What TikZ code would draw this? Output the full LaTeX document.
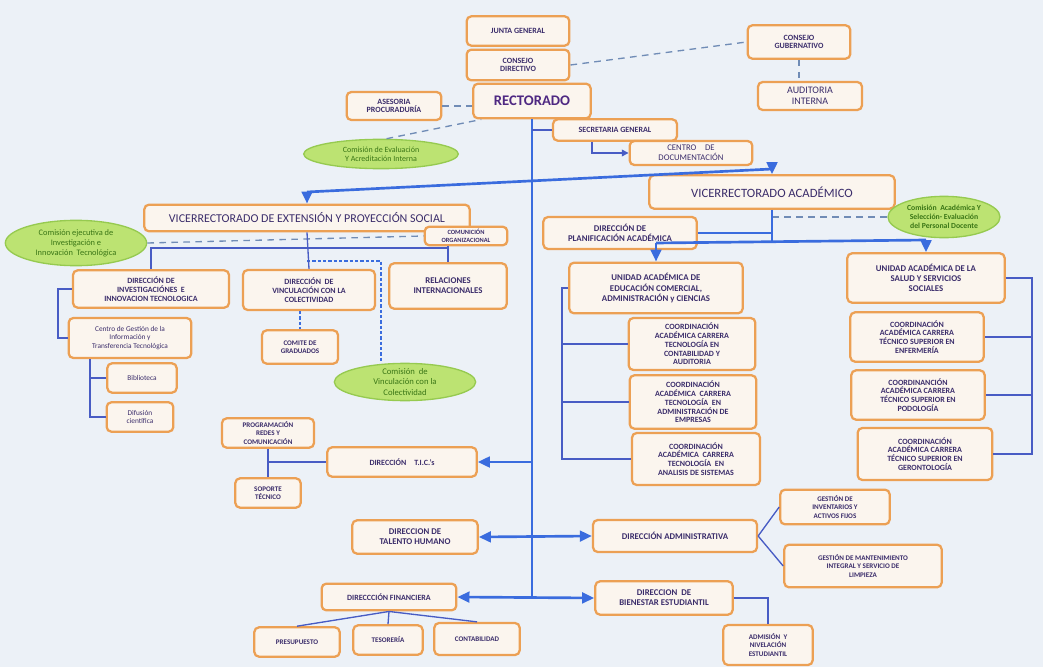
\documentclass[tikz,border=0pt]{standalone}
\usepackage{fontspec}
\setmainfont{Carlito}
\usetikzlibrary{arrows.meta,shapes.geometric}

\definecolor{unitorange}{RGB}{236,160,84}
\definecolor{unitfill}{RGB}{251,245,238}
\definecolor{unittext}{RGB}{59,45,107}
\definecolor{rectorpurple}{RGB}{78,40,130}
\definecolor{linkblue}{RGB}{58,108,222}
\definecolor{sublinkblue}{RGB}{72,92,196}
\definecolor{dashgray}{RGB}{112,140,182}
\definecolor{comfill}{RGB}{188,227,114}
\definecolor{comdraw}{RGB}{150,202,80}
\definecolor{comtext}{RGB}{58,118,22}
\definecolor{paper}{RGB}{236,241,247}

\tikzset{every picture/.style={line width=0.75pt},
  unitbox/.style={draw=unitorange, line width=1.7pt, rounded corners=3.5pt, fill=unitfill,
    text=unittext, align=center, inner sep=1pt, font=\fontsize{6}{6.6}\selectfont\bfseries},
  tinytext/.style={font=\fontsize{5.3}{6.2}\selectfont\bfseries},
  plaintext/.style={font=\fontsize{5.5}{6.4}\selectfont},
  midtext/.style={font=\fontsize{6.6}{7.6}\selectfont\bfseries},
  vicetext/.style={font=\fontsize{9}{10}\selectfont},
  comision/.style={ellipse, draw=comdraw, line width=1pt, fill=comfill, text=comtext,
    align=center, inner sep=0pt, font=\fontsize{6}{7}\selectfont},
  mainlink/.style={draw=linkblue, fill=linkblue, line width=2pt},
  sublink/.style={draw=sublinkblue, line width=1pt},
  dashlink/.style={draw=dashgray, line width=1pt, dash pattern=on 5pt off 4pt},
  vinclink/.style={draw=linkblue, line width=1pt, dash pattern=on 2.5pt off 1.5pt},
  tipblue/.style={-{Triangle[length=9pt,width=8pt]}},
  tipboth/.style={{Triangle[length=9pt,width=8pt]}-{Triangle[length=9pt,width=8pt]}}
}

\begin{document}
\begin{tikzpicture}[x=0.75pt,y=0.75pt,yscale=-1]
\useasboundingbox (0,0) rectangle (1043,667);
\fill[paper] (0,0) rectangle (1043,667);

% Text Node
\draw (518,31) node [unitbox, minimum width=77pt, minimum height=22pt] (junta) {JUNTA GENERAL};
% Text Node
\draw (518,65) node [unitbox, minimum width=77pt, minimum height=23pt] (directivo) {CONSEJO\\DIRECTIVO};
% Text Node
\draw (799,42) node [unitbox, minimum width=77pt, minimum height=25pt] (gubernativo) {CONSEJO\\GUBERNATIVO};
% Text Node
\draw (810,96) node [unitbox, minimum width=78pt, minimum height=21pt, font=\fontsize{7.5}{8.5}\selectfont] (auditoria) {AUDITORIA\\INTERNA};
% Text Node
\draw (532,101) node [unitbox, minimum width=88pt, minimum height=26pt, text=rectorpurple, font=\fontsize{11}{12}\selectfont\bfseries] (rectorado) {RECTORADO};
% Text Node
\draw (394,106) node [unitbox, minimum width=71pt, minimum height=21pt] (asesoria) {ASESORIA\\PROCURADURÍA};
% Text Node
\draw (381,154) node [comision, minimum width=116pt, minimum height=22pt] (evaluacion) {Comisión de Evaluación\\Y Acreditación Interna};
% Text Node
\draw (615,130) node [unitbox, minimum width=93pt, minimum height=16pt] (secretaria) {SECRETARIA GENERAL};
% Text Node
\draw (691,153) node [unitbox, minimum width=92pt, minimum height=18pt, font=\fontsize{6.5}{7.3}\selectfont] (documentacion) {CENTRO\quad DE\\DOCUMENTACIÓN};

% Text Node
\draw (307,218) node [unitbox, minimum width=244pt, minimum height=20pt, vicetext] (viceext) {VICERRECTORADO DE EXTENSIÓN Y PROYECCIÓN SOCIAL};
% Text Node
\draw (466,236) node [unitbox, minimum width=62pt, minimum height=14pt, font=\fontsize{4.8}{5.6}\selectfont\bfseries] (comunic) {COMUNICIÓN\\ORGANIZACIONAL};
% Text Node
\draw (76,243) node [comision, minimum width=106pt, minimum height=34pt, font=\fontsize{6.3}{7.4}\selectfont] (ejecutiva) {Comisión ejecutiva de\\Investigación e\\Innovación\ \ Tecnológica};
% Text Node
\draw (151,289) node [unitbox, minimum width=117pt, minimum height=28pt] (dirinv) {DIRECCIÓN DE\\INVESTIGACIÓNES\ \ E\\INNOVACION TECNOLOGICA};
% Text Node
\draw (309,290) node [unitbox, minimum width=99pt, minimum height=30pt] (dirvinc) {DIRECCIÓN\ \ DE\\VINCULACIÓN CON LA\\COLECTIVIDAD};
% Text Node
\draw (448,286) node [unitbox, minimum width=88pt, minimum height=34pt, midtext] (relint) {RELACIONES\\INTERNACIONALES};
% Text Node
\draw (130,338) node [unitbox, minimum width=92pt, minimum height=30pt, plaintext] (centrogest) {Centro de Gestión de la\\Información y\\Transferencia Tecnológica};
% Text Node
\draw (142,378) node [unitbox, minimum width=52pt, minimum height=22pt, plaintext] (biblio) {Biblioteca};
% Text Node
\draw (140,417) node [unitbox, minimum width=50pt, minimum height=22pt, plaintext] (difusion) {Difusión\\científica};
% Text Node
\draw (300,347) node [unitbox, minimum width=57pt, minimum height=25pt, tinytext] (comite) {COMITE DE\\GRADUADOS};
% Text Node
\draw (405,382) node [comision, minimum width=106pt, minimum height=27pt, font=\fontsize{6.5}{7.6}\selectfont] (vinccom) {Comisión\ \ de\\Vinculación con la\\Colectividad};

% Text Node
\draw (772,192) node [unitbox, minimum width=184pt, minimum height=25pt, font=\fontsize{9.5}{10.5}\selectfont] (viceacad) {VICERRECTORADO ACADÉMICO};
% Text Node
\draw (620,233) node [unitbox, minimum width=115pt, minimum height=24pt, midtext] (planif) {DIRECCIÓN DE\\PLANIFICACIÓN ACADÉMICA};
% Text Node
\draw (944,217) node [comision, minimum width=84pt, minimum height=31pt, font=\fontsize{5.8}{6.8}\selectfont\bfseries] (acadcom) {Comisión\ \ Académica Y\\Selección- Evaluación\\del Personal Docente};
% Text Node
\draw (656,288) node [unitbox, minimum width=130pt, minimum height=38pt, midtext] (unidadcom) {UNIDAD ACADÉMICA DE\\EDUCACIÓN COMERCIAL,\\ADMINISTRACIÓN y CIENCIAS};
% Text Node
\draw (926,278) node [unitbox, minimum width=118pt, minimum height=37pt, midtext] (unidadsalud) {UNIDAD ACADÉMICA DE LA\\SALUD Y SERVICIOS\\SOCIALES};
% Text Node
\draw (692,344) node [unitbox, minimum width=95pt, minimum height=39pt] (coordcont) {COORDINACIÓN\\ACADÉMICA CARRERA\\TECNOLOGÍA EN\\CONTABILIDAD Y\\AUDITORIA};
% Text Node
\draw (693,402) node [unitbox, minimum width=95pt, minimum height=40pt] (coordadm) {COORDINACIÓN\\ACADÉMICA\ \ CARRERA\\TECNOLOGÍA\ \ EN\\ADMINISTRACIÓN DE\\EMPRESAS};
% Text Node
\draw (696,459) node [unitbox, minimum width=96pt, minimum height=39pt] (coordsis) {COORDINACIÓN\\ACADÉMICA\ \ CARRERA\\TECNOLOGÍA\ \ EN\\ANALISIS DE SISTEMAS};
% Text Node
\draw (917,337) node [unitbox, minimum width=100pt, minimum height=37pt] (coordenf) {COORDINACIÓN\\ACADÉMICA CARRERA\\TÉCNICO SUPERIOR EN\\ENFERMERÍA};
% Text Node
\draw (918,395) node [unitbox, minimum width=100pt, minimum height=37pt] (coordpod) {COORDINANCIÓN\\ACADÉMICA CARRERA\\TÉCNICO SUPERIOR EN\\PODOLOGÍA};
% Text Node
\draw (925,454) node [unitbox, minimum width=101pt, minimum height=39pt] (coordger) {COORDINACIÓN\\ACADÉMICA CARRERA\\TÉCNICO SUPERIOR EN\\GERONTOLOGÍA};

% Text Node
\draw (268,433) node [unitbox, minimum width=69pt, minimum height=22pt, tinytext] (progredes) {PROGRAMACIÓN\\REDES Y\\COMUNICACIÓN};
% Text Node
\draw (268,493) node [unitbox, minimum width=49pt, minimum height=22pt, tinytext] (soporte) {SOPORTE\\TÉCNICO};
% Text Node
\draw (402,462) node [unitbox, minimum width=112pt, minimum height=22pt] (tics) {DIRECCIÓN\quad T.I.C.'s};
% Text Node
\draw (415,537) node [unitbox, minimum width=94pt, minimum height=25pt, midtext] (talento) {DIRECCION DE\\TALENTO HUMANO};
% Text Node
\draw (389,597) node [unitbox, minimum width=101pt, minimum height=20pt] (financ) {DIRECCCIÓN FINANCIERA};
% Text Node
\draw (297,642) node [unitbox, minimum width=64pt, minimum height=22pt, tinytext] (presup) {PRESUPUESTO};
% Text Node
\draw (388,640) node [unitbox, minimum width=52pt, minimum height=22pt, tinytext] (tesor) {TESORERÍA};
% Text Node
\draw (477,639) node [unitbox, minimum width=64pt, minimum height=24pt, tinytext] (contab) {CONTABILIDAD};
% Text Node
\draw (675,536) node [unitbox, minimum width=123pt, minimum height=24pt, midtext] (admin) {DIRECCIÓN ADMINISTRATIVA};
% Text Node
\draw (835,507) node [unitbox, minimum width=82pt, minimum height=26pt, tinytext] (inventarios) {GESTIÓN DE\\INVENTARIOS Y\\ACTIVOS FIJOS};
% Text Node
\draw (863,566) node [unitbox, minimum width=118pt, minimum height=32pt, tinytext] (manten) {GESTIÓN DE MANTENIMIENTO\\INTEGRAL Y SERVICIO DE\\LIMPIEZA};
% Text Node
\draw (664,598) node [unitbox, minimum width=103pt, minimum height=25pt, midtext] (bienestar) {DIRECCION\ \ DE\\BIENESTAR ESTUDIANTIL};
% Text Node
\draw (768,645) node [unitbox, minimum width=67pt, minimum height=30pt, tinytext] (admision) {ADMISIÓN\ \ Y\\NIVELACIÓN\\ESTUDIANTIL};

%Coordinates
\coordinate (spinebot) at (532,597);
\coordinate (exthook) at (307,192);
\coordinate (acahook) at (772,169);
\coordinate (invjoint) at (448,248);
\coordinate (vincturn) at (381,261);
\coordinate (acadjoint) at (772,242);
\coordinate (comhook) at (656,243);
\coordinate (saludhook) at (926,240);
\coordinate (comrail) at (562,0);
\coordinate (saludrail) at (1032,0);

%Dashed Lines
\draw[dashlink] (directivo.east) -- (gubernativo.west);
\draw[dashlink] (gubernativo.south) -- (gubernativo.south |- auditoria.north);
\draw[dashlink] (asesoria.east) -- (rectorado.west |- asesoria.east);
\draw[dashlink] (evaluacion.70) -- (rectorado.200);
\draw[dashlink] (ejecutiva.east) -- (comunic.west);
\draw[dashlink] (viceacad.south |- acadcom.west) -- (acadcom.west);
\draw[vinclink] (viceext.south |- vincturn) -- (vincturn) -- (vincturn |- vinccom.north);
\draw[vinclink] (dirvinc.south -| comite.north) -- (comite.north);

%Straight Lines
\draw[mainlink] (rectorado.south) -- (spinebot);
\draw[sublink] (rectorado.south |- secretaria.west) -- (secretaria.west);
\draw[sublink, -{Triangle[length=5pt,width=5pt]}] ([xshift=30pt]secretaria.south west) |- (documentacion.west);
\draw[mainlink] (exthook) -- (acahook);
\draw[mainlink, tipblue] (exthook) -- (viceext.north);
\draw[mainlink, tipblue] (acahook) -- (viceacad.north);

%Straight Lines
\draw[sublink] (viceext.south) -- (dirvinc.north);
\draw[sublink] (dirinv.north) |- (invjoint);
\draw[sublink] (comunic.south -| relint.north) -- (relint.north);
\draw[sublink] (dirinv.west) -- ++(-14,0) |- (centrogest.west);
\draw[sublink] ([xshift=-30pt]centrogest.south) |- (biblio.west);
\draw[sublink] ([xshift=-30pt]centrogest.south) |- (difusion.west);

%Straight Lines
\draw[mainlink] (viceacad.south) -- (acadjoint);
\draw[mainlink] (planif.east) -- (viceacad.south |- planif.east);
\draw[mainlink] (comhook) -- (saludhook);
\draw[mainlink, tipblue] (comhook) -- (unidadcom.north);
\draw[mainlink, tipblue] (saludhook) -- (unidadsalud.north);
\draw[sublink] (unidadcom.west) -- (comrail |- unidadcom.west) -- (comrail |- coordsis.west) -- (coordsis.west);
\draw[sublink] (comrail |- coordcont.west) -- (coordcont.west);
\draw[sublink] (comrail |- coordadm.west) -- (coordadm.west);
\draw[sublink] (unidadsalud.east) -- (saludrail |- unidadsalud.east) -- (saludrail |- coordger.east) -- (coordger.east);
\draw[sublink] (saludrail |- coordenf.east) -- (coordenf.east);
\draw[sublink] (saludrail |- coordpod.east) -- (coordpod.east);

%Straight Lines
\draw[sublink] (progredes.south) -- (soporte.north);
\draw[sublink] (progredes.south |- tics.west) -- (tics.west);
\draw[mainlink, tipblue] (spinebot |- tics.east) -- (tics.east);
\draw[mainlink, tipboth] (talento.east) -- (admin.west);
\draw[mainlink, tipboth] (financ.east) -- (bienestar.west);
\draw[sublink] (financ.south) -- (presup.north);
\draw[sublink] (financ.south) -- (tesor.north);
\draw[sublink] (financ.south) -- (contab.north);
\draw[sublink] (admin.east) -- (inventarios.west);
\draw[sublink] (admin.east) -- (manten.west);
\draw[sublink] (bienestar.east) -| (admision.north);

\end{tikzpicture}
\end{document}
